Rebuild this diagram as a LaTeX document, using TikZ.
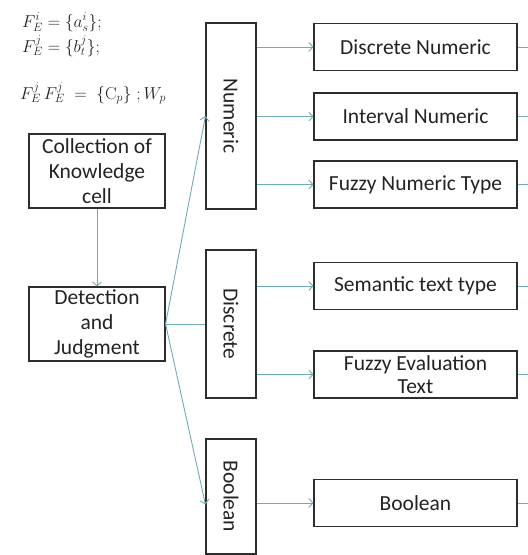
\documentclass[tikz,border=0pt]{standalone}
\usepackage[no-math]{fontspec}
\setmainfont{Carlito}
\usetikzlibrary{arrows.meta}
\definecolor{conn}{RGB}{110,172,182}
\definecolor{boxc}{RGB}{45,45,45}
\definecolor{txt}{RGB}{35,35,35}
\tikzset{
  box/.style={draw=boxc, line width=1.1pt, minimum width=203pt, minimum height=47pt, inner sep=0pt,
    font=\fontsize{21.5}{25}\selectfont, align=center, text=txt},
  lbox/.style={box, minimum width=136pt, minimum height=74pt},
  vbox/.style={draw=boxc, line width=1.1pt, minimum width=50pt, inner sep=0pt},
  vtext/.style={font=\fontsize{21.5}{25}\selectfont, rotate=-90, text=txt},
  conn/.style={draw=conn, line width=0.9pt},
  arr/.style={conn, -{Straight Barb[length=4pt,width=9pt]}},
  fml/.style={anchor=base west, inner sep=0pt, font=\fontsize{18}{20}\selectfont, text=txt}
}
\begin{document}
\begin{tikzpicture}[x=1pt,y=-1pt]
\useasboundingbox (0,0) rectangle (528,555);
\coordinate (edge) at (528,0);
% formulas
\node[fml] (f1) at (22,27) {$F_E^i=\{a_s^i\};$};
\node[fml] (f2) at (22,52) {$F_E^j=\{b_t^j\};$};
\node[fml] (f3) at (20,99) {$F_E^j\,F_E^j\;=\;\{\mathrm{C}_p\}\;;W_p$};
% left boxes
\node[lbox] (coll) at (97,171) {Collection of\\Knowledge\\cell};
\node[lbox] (det) at (97,324) {Detection\\and\\Judgment};
% vertical category boxes
\node[vbox, minimum height=186pt] (num) at (231,116) {};
\node[vtext] (numt) at (num.center) {Numeric};
\node[vbox, minimum height=148pt] (disc) at (231,324) {};
\node[vtext] (disct) at (disc.center) {Discrete};
\node[vbox, minimum height=115pt] (bool) at (231,496.5) {};
\node[vtext] (boolt) at (bool.center) {Boolean};
% right boxes
\node[box] (dn) at (415.5,47) {Discrete Numeric};
\node[box] (in) at (415.5,116.5) {Interval Numeric};
\node[box] (fn) at (415.5,184.5) {Fuzzy Numeric Type};
\node[box] (st) at (415.5,286) {Semantic text type};
\node[box, font=\fontsize{21.5}{23}\selectfont] (fe) at (415.5,374.5) {Fuzzy Evaluation\\Text};
\node[box] (bo) at (415.5,503) {Boolean};
% connectors
\draw[arr] (coll.south) -- (det.north);
\draw[arr] (det.east) -- (num.west);
\draw[conn] (det.east) -- (det.east -| disc.west);
\draw[arr] (det.east) -- ([yshift=-8pt]bool.west);
\draw[arr] (num.east |- dn.west) -- (dn.west);
\draw[arr] (num.east |- in.west) -- (in.west);
\draw[arr] (num.east |- fn.west) -- (fn.west);
\draw[arr] (disc.east |- st.west) -- (st.west);
\draw[arr] (disc.east |- fe.west) -- (fe.west);
\draw[arr] (bool.east |- bo.west) -- (bo.west);
\foreach \b in {dn,in,fn,st,fe,bo}{
  \draw[conn] (\b.east) -- (\b.east -| edge);
}
\end{tikzpicture}
\end{document}
